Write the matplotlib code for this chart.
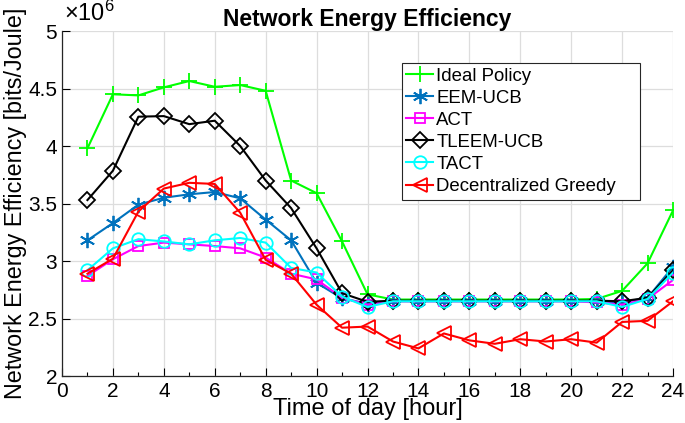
import matplotlib
matplotlib.use("Agg")
import matplotlib.pyplot as plt
import numpy as np

plt.rcParams['font.family'] = ['Liberation Sans', 'DejaVu Sans']
plt.rcParams['mathtext.fontset'] = 'custom'
plt.rcParams['mathtext.rm'] = 'Liberation Sans'
plt.rcParams['mathtext.it'] = 'Liberation Sans'

hours = list(range(1, 25))

ideal = [3.98, 4.45, 4.44, 4.51, 4.565, 4.515, 4.53, 4.48, 3.70, 3.59, 3.17, 2.71,
         2.665, 2.665, 2.665, 2.665, 2.665, 2.665, 2.665, 2.665, 2.67, 2.74, 2.98, 3.44]
eem_ucb = [3.18, 3.33, 3.49, 3.55, 3.58, 3.60, 3.545, 3.36, 3.18, 2.81, 2.675, 2.63,
           2.65, 2.65, 2.65, 2.65, 2.65, 2.65, 2.65, 2.65, 2.65, 2.64, 2.68, 2.95]
act = [2.87, 3.015, 3.13, 3.16, 3.145, 3.13, 3.11, 3.03, 2.89, 2.84, 2.68, 2.62,
       2.65, 2.65, 2.65, 2.65, 2.65, 2.65, 2.65, 2.65, 2.64, 2.62, 2.67, 2.835]
tleem_ucb = [3.53, 3.785, 4.255, 4.26, 4.19, 4.22, 4.00, 3.70, 3.46, 3.11, 2.72, 2.645,
             2.655, 2.655, 2.655, 2.655, 2.655, 2.655, 2.655, 2.655, 2.655, 2.65, 2.68, 2.92]
tact = [2.92, 3.11, 3.19, 3.17, 3.145, 3.18, 3.20, 3.16, 2.94, 2.90, 2.69, 2.60,
        2.65, 2.65, 2.65, 2.65, 2.65, 2.65, 2.65, 2.65, 2.65, 2.60, 2.67, 2.90]
greedy = [2.89, 3.02, 3.43, 3.63, 3.68, 3.67, 3.42, 3.01, 2.89, 2.62, 2.42, 2.43,
          2.30, 2.24, 2.37, 2.31, 2.28, 2.32, 2.30, 2.32, 2.29, 2.47, 2.48, 2.65]

labels = ['Ideal Policy', 'EEM-UCB', 'ACT', 'TLEEM-UCB', 'TACT', 'Decentralized Greedy']
series = [ideal, eem_ucb, act, tleem_ucb, tact, greedy]
colors = ['#00FF00', '#0072BD', '#FF00FF', '#000000', '#00FFFF', '#FF0000']
markers = ['+', (6, 2, 0), 's', 'D', 'o', '<']
msizes = [12, 11, 7, 8, 9, 10]

fig = plt.figure(figsize=(6.85, 4.23), dpi=100)
ax = fig.add_axes([0.0905, 0.1111, 0.892, 0.8156])

scale = 1e6
for lab, vals, c, m, ms in zip(labels, series, colors, markers, msizes):
    ax.plot(hours, np.array(vals) * scale, color=c, marker=m, markersize=ms,
            markerfacecolor='none', markeredgecolor=c, markeredgewidth=1.3,
            linewidth=1.5, label=lab)

ax.set_xlim(0, 24)
ax.set_ylim(2e6, 5e6)
ax.set_xticks(range(0, 25, 2))
ax.set_xticks(range(0, 25, 1), minor=True)
ax.set_yticks(np.arange(2, 5.01, 0.5) * scale)
ax.set_yticklabels(['2', '2.5', '3', '3.5', '4', '4.5', '5'])
ax.tick_params(axis='both', which='major', direction='in', labelsize=15, length=6, width=0.8)
ax.tick_params(axis='x', which='major', pad=4)
ax.tick_params(axis='both', which='minor', direction='in', length=3, width=0.8)
ax.tick_params(axis='y', which='minor', left=False)
ax.grid(True, which='major', color='#DDDDDD', linewidth=0.9)
ax.set_axisbelow(True)
for s in ['top', 'right']:
    ax.spines[s].set_visible(False)
for s in ['left', 'bottom']:
    ax.spines[s].set_color('#262626')
    ax.spines[s].set_linewidth(0.9)

ax.set_xlabel('Time of day [hour]', fontsize=17, labelpad=-2)
ax.set_ylabel('Network Energy Efficiency [bits/Joule]', fontsize=16.8, labelpad=1)
ax.set_title('Network Energy Efficiency', fontsize=16.5, fontweight='bold', pad=3)
ax.text(0.003, 1.015, r'$\times10^{6}$', transform=ax.transAxes, fontsize=17,
        ha='left', va='bottom')

leg = ax.legend(loc='upper left', bbox_to_anchor=(0.556, 0.516, 0.3895, 0.391),
                mode='expand', fontsize=13.4,
                frameon=True, fancybox=False, edgecolor='#262626', framealpha=1,
                handlelength=1.45, handletextpad=0.16, borderpad=0.25, labelspacing=0.27,
                borderaxespad=0)
leg.get_frame().set_linewidth(0.8)

fig.savefig('out.png', dpi=100)
